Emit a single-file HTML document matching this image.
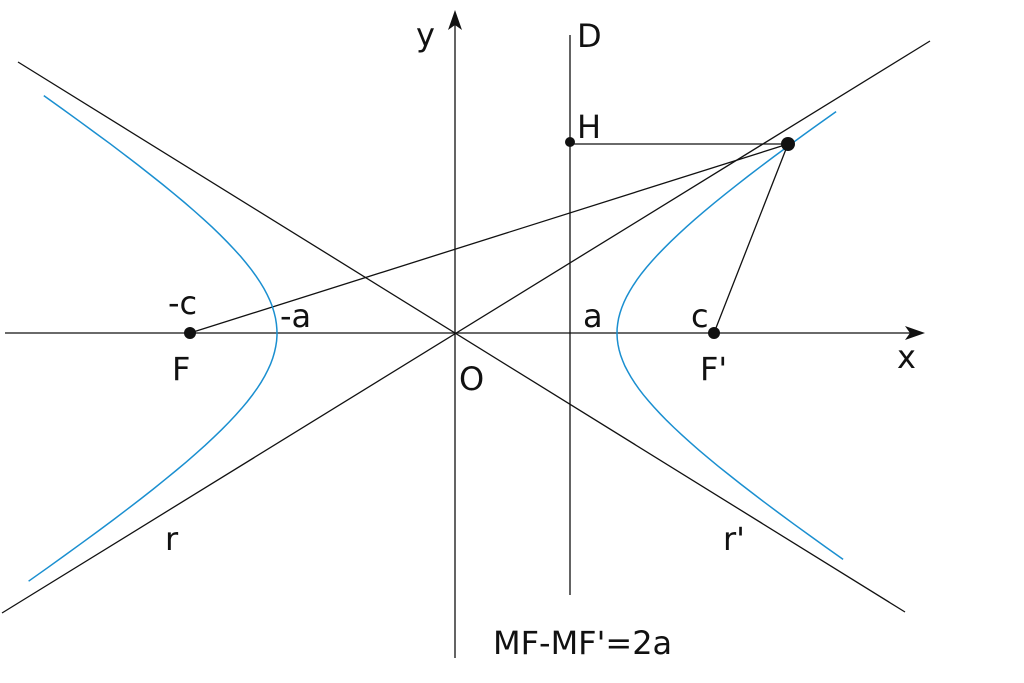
<!DOCTYPE html>
<html><head><meta charset="utf-8"><style>
body{margin:0;background:#fff;width:1024px;height:678px;overflow:hidden}
text{font-family:"DejaVu Sans","Liberation Sans",sans-serif;font-size:32px;fill:#111}
</style></head><body>
<svg width="1024" height="678" viewBox="0 0 1024 678" xmlns="http://www.w3.org/2000/svg">
<g stroke="#111" stroke-width="1.3" fill="none">
<line x1="5" y1="333" x2="922" y2="333"/>
<line x1="455" y1="658" x2="455" y2="15"/>
<line x1="18" y1="62" x2="905" y2="612"/>
<line x1="2" y1="613" x2="930" y2="41"/>
<line x1="570" y1="35" x2="570" y2="595"/>
<line x1="570" y1="144" x2="788" y2="144"/>
<line x1="190" y1="333" x2="788" y2="144"/>
<line x1="714" y1="333" x2="788" y2="144"/>
</g>
<path d="M925 333 L905 326 L910 333 L905 340 Z" fill="#111"/>
<path d="M455 10 L448 30 L455 25 L462 30 Z" fill="#111"/>
<path id="hr" fill="none" stroke="#1a8fd0" stroke-width="1.5"/>
<path id="hl" fill="none" stroke="#1a8fd0" stroke-width="1.5"/>
<g fill="#111">
<circle cx="190" cy="333" r="6"/><circle cx="714" cy="333" r="6"/>
<circle cx="570" cy="142" r="5"/><circle cx="788" cy="144" r="7"/>
</g>
<text x="416" y="46">y</text>
<text x="577" y="47">D</text>
<text x="577" y="138">H</text>
<text x="168" y="314">-c</text>
<text x="280" y="327">-a</text>
<text x="583" y="327">a</text>
<text x="691" y="327">c</text>
<text x="172" y="380">F</text>
<text x="459" y="390">O</text>
<text x="700" y="380">F'</text>
<text x="897" y="368">x</text>
<text x="165" y="550">r</text>
<text x="723" y="550">r'</text>
<text x="493" y="654">MF-MF'=2a</text>
</svg>
<script>
function pts(sx,a,b,t0,t1){var r=[];for(var i=0;i<=60;i++){var t=t0+(t1-t0)*i/60;r.push((455+sx*a*Math.cosh(t)).toFixed(1)+","+(333-b*Math.sinh(t)).toFixed(1));}return "M"+r.join(" L");}
document.getElementById("hr").setAttribute("d",pts(1,162,104,-1.52,1.5));
document.getElementById("hl").setAttribute("d",pts(-1,178,114,-1.52,1.48));
</script>
</body></html>
